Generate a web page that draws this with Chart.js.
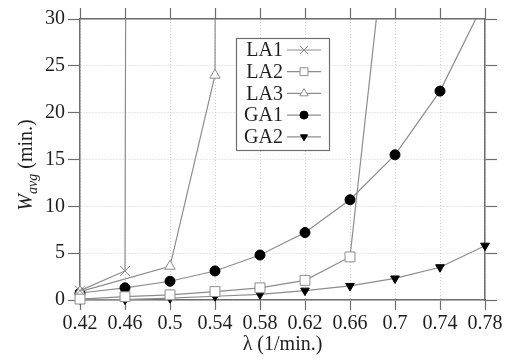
<!DOCTYPE html>
<html>
<head>
<meta charset="utf-8">
<script src="https://cdn.jsdelivr.net/npm/chart.js@4.4.0/dist/chart.umd.min.js"></script>
<style>
  html, body { margin: 0; padding: 0; background: #fff; }
  canvas { display: block; }
</style>
</head>
<body>
<canvas id="chart" width="505" height="362"></canvas>
<script>
const lambdas = ['0.42', '0.46', '0.5', '0.54', '0.58', '0.62', '0.66', '0.7', '0.74', '0.78'];
const yTicks = [0, 5, 10, 15, 20, 25, 30];

// values past 30 leave the plot through the top edge
const la1 = [1.0, 3.1, 2000, null, null, null, null, null, null, null];
const la2 = [0.1, 0.35, 0.55, 0.9, 1.3, 2.1, 4.6, 48, null, null];
const la3 = [0.9, null, 3.6, 24, 2000, null, null, null, null, null];
const ga1 = [0.75, 1.3, 2.0, 3.1, 4.8, 7.2, 10.7, 15.5, 22.3, 32];
const ga2 = [0.05, 0.05, 0.2, 0.4, 0.6, 1.0, 1.5, 2.3, 3.5, 5.8];

const FONT = '"Liberation Serif", "Times New Roman", serif';
const LINE = '#8c8c8c';
const FRAME = '#6e6e6e';
const TEXT = '#1e1e1e';

function series(label, data, style, filled, radius, rotation) {
  return {
    label: label,
    data: data,
    borderColor: LINE,
    borderWidth: 1.2,
    pointStyle: style,
    pointRadius: radius,
    pointRotation: rotation || 0,
    pointBackgroundColor: filled ? '#000' : '#fff',
    pointBorderColor: filled ? '#000' : LINE,
    pointBorderWidth: 1,
    pointHoverRadius: radius,
    spanGaps: true,
    tension: 0,
    clip: { left: 10, right: 10, top: 0, bottom: 10 }
  };
}

// legend with the label first and the sample to its right
const legendPlugin = {
  id: 'boxLegend',
  afterDraw(chart) {
    const ctx = chart.ctx;
    ctx.save();
    ctx.fillStyle = '#fff';
    ctx.fillRect(236, 38, 93, 112);
    ctx.strokeStyle = FRAME;
    ctx.lineWidth = 1.2;
    ctx.strokeRect(236.5, 38.5, 93, 112);
    chart.data.datasets.forEach((ds, i) => {
      const y = 50 + i * 21.7;
      ctx.font = '20px ' + FONT;
      ctx.fillStyle = TEXT;
      ctx.textAlign = 'right';
      ctx.textBaseline = 'middle';
      ctx.fillText(ds.label, 283, y + 1);
      ctx.strokeStyle = ds.borderColor;
      ctx.lineWidth = ds.borderWidth;
      ctx.beginPath();
      ctx.moveTo(287, y);
      ctx.lineTo(321, y);
      ctx.stroke();
      ctx.fillStyle = ds.pointBackgroundColor;
      ctx.strokeStyle = ds.pointBorderColor;
      ctx.lineWidth = ds.pointBorderWidth;
      Chart.helpers.drawPoint(ctx, {
        pointStyle: ds.pointStyle,
        radius: ds.pointRadius * 0.8,
        rotation: ds.pointRotation,
        borderWidth: ds.pointBorderWidth
      }, 304, y);
    });
    ctx.restore();
  }
};

// y title with the italic subscript
const yTitlePlugin = {
  id: 'yTitle',
  afterDraw(chart) {
    const ctx = chart.ctx;
    ctx.save();
    ctx.translate(32, 165);
    ctx.rotate(-Math.PI / 2);
    ctx.fillStyle = TEXT;
    ctx.textBaseline = 'alphabetic';
    ctx.textAlign = 'left';
    const bigI = 'italic 20px ' + FONT;
    const small = 'italic 14px ' + FONT;
    const big = '20px ' + FONT;
    ctx.font = bigI; const w1 = ctx.measureText('W').width;
    ctx.font = small; const w2 = ctx.measureText('avg').width;
    ctx.font = big; const w3 = ctx.measureText(' (min.)').width;
    let x = -(w1 + w2 + w3) / 2;
    ctx.font = bigI; ctx.fillText('W', x, 0); x += w1;
    ctx.font = small; ctx.fillText('avg', x, 5); x += w2;
    ctx.font = big; ctx.fillText(' (min.)', x, 0);
    ctx.restore();
  }
};

const gridDots = { color: '#cfcfcf', lineWidth: 1, tickColor: FRAME, tickWidth: 1.2 };
const frame = { display: true, color: FRAME, width: 1.5, dash: [1, 2] };

new Chart(document.getElementById('chart'), {
  type: 'line',
  data: {
    labels: lambdas,
    datasets: [
      series('LA1', la1, 'crossRot', false, 7),
      series('LA2', la2, 'rect', false, 7),
      series('LA3', la3, 'triangle', false, 6),
      series('GA1', ga1, 'circle', true, 5),
      series('GA2', ga2, 'triangle', true, 5, 180)
    ]
  },
  options: {
    responsive: false,
    animation: false,
    layout: { padding: 0 },
    plugins: { legend: { display: false }, tooltip: { enabled: false } },
    scales: {
      x: {
        type: 'category',
        position: 'bottom',
        offset: false,
        grid: Object.assign({ tickLength: 10 }, gridDots),
        border: frame,
        ticks: { color: TEXT, font: { family: FONT, size: 20 }, padding: 2, maxRotation: 0, autoSkip: false },
        title: { display: true, text: 'λ (1/min.)', color: TEXT, font: { family: FONT, size: 20 }, padding: { top: 0, bottom: 5 } },
        afterFit(scale) { scale.height = 62; }
      },
      xTop: {
        type: 'category',
        position: 'top',
        offset: false,
        grid: Object.assign({ tickLength: 11, drawOnChartArea: false }, gridDots),
        border: frame,
        ticks: { display: false, autoSkip: false },
        afterFit(scale) { scale.height = 19; }
      },
      y: {
        type: 'linear',
        position: 'left',
        min: 0,
        max: 30,
        grid: Object.assign({ tickLength: 12 }, gridDots),
        border: frame,
        afterBuildTicks(scale) { scale.ticks = yTicks.map(v => ({ value: v })); },
        ticks: { color: TEXT, font: { family: FONT, size: 20 }, padding: 3 },
        afterFit(scale) { scale.width = 80; }
      },
      yRight: {
        type: 'linear',
        position: 'right',
        min: 0,
        max: 30,
        grid: Object.assign({ tickLength: 12, drawOnChartArea: false }, gridDots),
        border: frame,
        afterBuildTicks(scale) { scale.ticks = yTicks.map(v => ({ value: v })); },
        ticks: { display: false },
        afterFit(scale) { scale.width = 20; }
      }
    }
  },
  plugins: [legendPlugin, yTitlePlugin]
});
</script>
</body>
</html>
